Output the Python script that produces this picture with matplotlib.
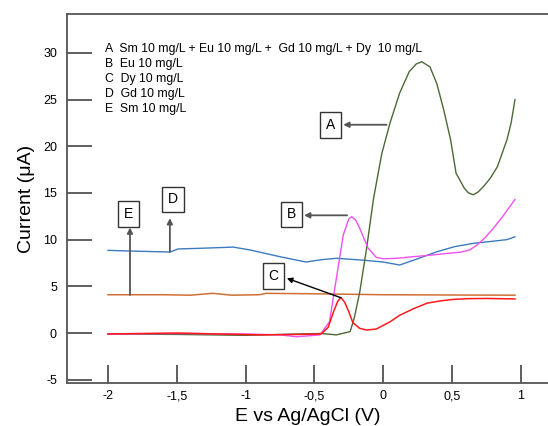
import matplotlib
matplotlib.use("Agg")
import matplotlib.pyplot as plt

plt.rcParams["font.family"] = ["Liberation Sans", "DejaVu Sans"]
plt.rcParams["axes.unicode_minus"] = False

# curve A: Sm + Eu + Gd + Dy mixture
a_x = [-2.0, -1.5, -1.0, -0.6, -0.45, -0.34, -0.24, -0.21, -0.17, -0.12, -0.07,
       -0.01, 0.05, 0.12, 0.19, 0.24, 0.28, 0.34, 0.39, 0.44, 0.49, 0.53, 0.59,
       0.62, 0.655, 0.69, 0.73, 0.78, 0.83, 0.90, 0.93, 0.958]
a_y = [-0.1, -0.15, -0.25, -0.1, -0.05, -0.2, 0.15, 1.6, 4.4, 9.1, 14.4,
       19.2, 22.5, 25.7, 28.0, 28.8, 29.05, 28.5, 26.7, 23.9, 20.7, 17.1, 15.5,
       15.0, 14.8, 15.1, 15.7, 16.6, 17.8, 20.7, 22.5, 25.0]

# curve B: Eu
b_x = [-2.0, -1.5, -1.0, -0.75, -0.63, -0.5, -0.46, -0.39, -0.34, -0.29, -0.25,
       -0.23, -0.2, -0.17, -0.11, -0.05, 0.0, 0.1, 0.2, 0.32, 0.45, 0.56, 0.63,
       0.68, 0.74, 0.8, 0.87, 0.958]
b_y = [-0.1, -0.05, -0.1, -0.2, -0.4, -0.25, -0.2, 1.2, 5.85, 10.5, 12.2,
       12.45, 12.1, 11.2, 9.1, 8.1, 7.95, 8.0, 8.15, 8.3, 8.5, 8.65, 8.9,
       9.4, 10.2, 11.2, 12.5, 14.3]

# curve C: Dy
c_x = [-2.0, -1.5, -1.2, -0.9, -0.6, -0.45, -0.40, -0.36, -0.33, -0.307, -0.28,
       -0.25, -0.22, -0.17, -0.12, -0.05, 0.05, 0.12, 0.22, 0.32, 0.42, 0.51,
       0.62, 0.75, 0.958]
c_y = [-0.1, 0.0, -0.1, -0.2, -0.15, -0.1, 0.6, 2.3, 3.4, 3.8, 3.3,
       2.3, 1.1, 0.5, 0.32, 0.43, 1.2, 1.9, 2.6, 3.2, 3.45, 3.6,
       3.68, 3.7, 3.65]

# curve D: Gd
d_x = [-2.0, -1.84, -1.55, -1.49, -1.33, -1.09, -0.97, -0.75, -0.56, -0.45, -0.34,
       -0.145, 0.0, 0.12, 0.25, 0.39, 0.52, 0.655, 0.78, 0.9, 0.958]
d_y = [8.85, 8.78, 8.67, 9.0, 9.07, 9.2, 8.9, 8.17, 7.6, 7.85, 8.0,
       7.8, 7.6, 7.28, 7.95, 8.7, 9.25, 9.6, 9.8, 10.0, 10.3]

# curve E: Sm
e_x = [-2.0, -1.6, -1.4, -1.24, -1.1, -0.9, -0.85, -0.5, 0.0, 0.5, 0.958]
e_y = [4.1, 4.1, 4.05, 4.25, 4.05, 4.1, 4.25, 4.2, 4.1, 4.07, 4.05]

x_ticks = [-2, -1.5, -1, -0.5, 0, 0.5, 1]
x_tick_labels = ["-2", "-1,5", "-1", "-0,5", "0", "0,5", "1"]
y_ticks = [-5, 0, 5, 10, 15, 20, 25, 30]

legend_lines = [
    "A  Sm 10 mg/L + Eu 10 mg/L +  Gd 10 mg/L + Dy  10 mg/L",
    "B  Eu 10 mg/L",
    "C  Dy 10 mg/L",
    "D  Gd 10 mg/L",
    "E  Sm 10 mg/L",
]


def main():
    fig = plt.figure(figsize=(5.48, 4.26), dpi=100)
    ax = fig.add_axes([0.1217, 0.1002, 0.8783, 0.8668])

    ax.plot(e_x, e_y, color="#cf6f35", lw=1.1)
    ax.plot(d_x, d_y, color="#3c7bbf", lw=1.0)
    ax.plot(a_x, a_y, color="#4a6a35", lw=1.0)
    ax.plot(b_x, b_y, color="#f050f0", lw=1.0)
    ax.plot(c_x, c_y, color="#ff1a1a", lw=1.1)

    ax.set_xlim(-2.30, 1.198)
    ax.set_ylim(-5.385, 34.15)

    ax.set_xticks(x_ticks)
    ax.set_xticklabels(x_tick_labels)
    ax.set_yticks(y_ticks)
    ax.tick_params(axis="y", direction="in", length=18, width=1.1,
                   colors="#333333", labelsize=9, pad=7)
    ax.tick_params(axis="x", direction="in", length=13, width=1.1,
                   colors="#333333", labelsize=9, pad=5)
    for lab in ax.get_xticklabels() + ax.get_yticklabels():
        lab.set_color("black")

    ax.spines["right"].set_visible(False)
    for s in ["left", "bottom", "top"]:
        ax.spines[s].set_color("#555555")
        ax.spines[s].set_linewidth(1.3)

    ax.set_xlabel("E vs Ag/AgCl (V)", fontsize=14, labelpad=4)
    ax.set_ylabel("Current (\u03bcA)", fontsize=14, labelpad=6)

    for i, line in enumerate(legend_lines):
        ax.text(-2.024, 30.4 - 1.6 * i, line, fontsize=8.8, va="center", ha="left")

    box = dict(boxstyle="square,pad=0.42", fc="white", ec="#333333", lw=1.0)
    gray_arrow = dict(arrowstyle="-|>", color="#555555", lw=1.3,
                      mutation_scale=8, shrinkA=0, shrinkB=0)
    black_arrow = dict(arrowstyle="-|>", color="black", lw=1.0,
                       mutation_scale=8, shrinkA=0, shrinkB=0)

    # boxed letters with arrows to their curves
    ax.text(-0.38, 22.3, "A", fontsize=10, ha="center", va="center", bbox=box)
    ax.annotate("", xy=(-0.29, 22.3), xytext=(0.025, 22.3), arrowprops=gray_arrow)

    ax.text(-0.667, 12.7, "B", fontsize=10, ha="center", va="center", bbox=box)
    ax.annotate("", xy=(-0.575, 12.6), xytext=(-0.262, 12.6), arrowprops=gray_arrow)

    ax.text(-0.796, 6.08, "C", fontsize=10, ha="center", va="center", bbox=box)
    ax.annotate("", xy=(-0.70, 5.86), xytext=(-0.307, 3.78), arrowprops=black_arrow)

    ax.text(-1.528, 14.3, "D", fontsize=10, ha="center", va="center", bbox=box)
    ax.annotate("", xy=(-1.55, 12.3), xytext=(-1.55, 8.7), arrowprops=gray_arrow)

    ax.text(-1.85, 12.74, "E", fontsize=10, ha="center", va="center", bbox=box)
    ax.annotate("", xy=(-1.84, 11.3), xytext=(-1.84, 4.07), arrowprops=gray_arrow)

    fig.savefig("out.png", dpi=100)
    plt.close(fig)


if __name__ == "__main__":
    main()
